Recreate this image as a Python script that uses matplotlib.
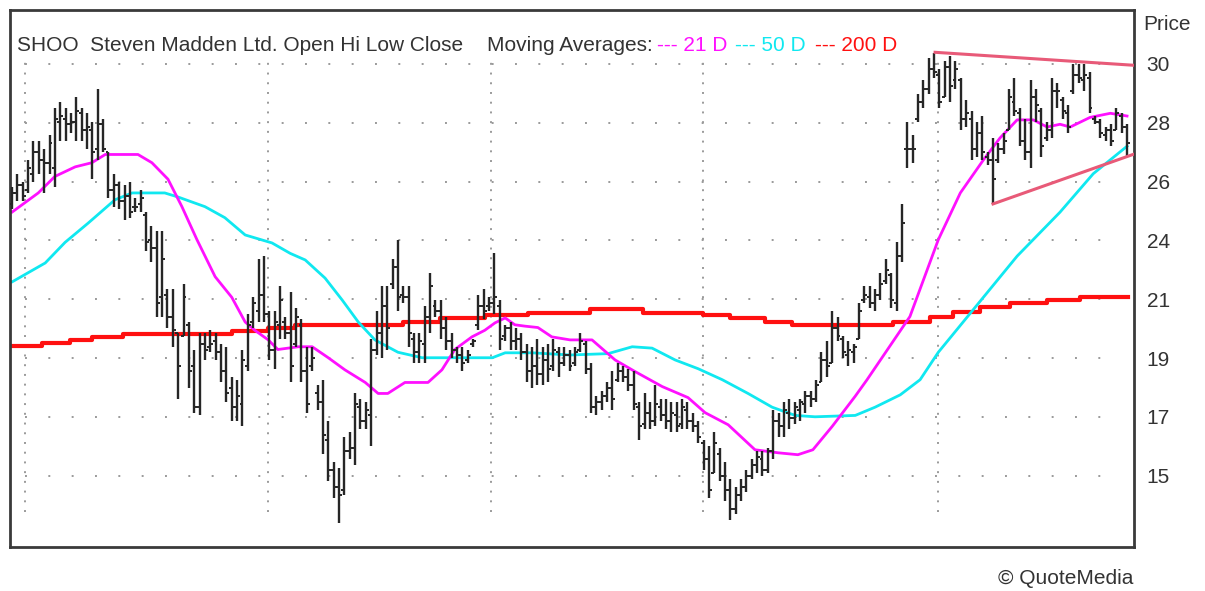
import numpy as np
import matplotlib
matplotlib.use('Agg')
import matplotlib.pyplot as plt

plt.rcParams['font.family'] = ['Liberation Sans', 'DejaVu Sans']

# daily OHLC (bar index = trading day)
highs = [25.5, 26.0, 25.7, 26.5, 27.2, 27.2, 26.9, 27.4, 28.4, 28.6,
         28.4, 28.2, 28.8, 28.4, 28.2, 27.9, 29.1, 28.0, 26.8, 26.0,
         25.7, 25.6, 25.7, 25.1, 25.4, 24.6, 24.1, 23.9, 23.9, 21.8,
         21.8, 20.2, 22.0, 20.6, 19.6, 20.2, 20.2, 20.3, 20.2, 19.8,
         19.7, 18.6, 18.5, 19.6, 20.9, 21.5, 22.9, 23.0, 21.0, 21.0,
         21.9, 20.8, 21.7, 21.1, 20.7, 19.7, 19.7, 18.3, 18.5, 17.0,
         15.5, 15.3, 16.4, 16.6, 18.0, 17.8, 17.7, 20.0, 21.0, 21.9,
         21.9, 22.9, 23.6, 21.9, 21.9, 20.2, 20.2, 21.2, 22.4, 21.4,
         21.4, 20.8, 20.2, 19.7, 19.7, 19.6, 20.0, 21.6, 21.8, 21.5,
         23.1, 21.4, 20.5, 20.6, 20.4, 20.2, 19.8, 19.7, 20.0, 19.7,
         19.8, 20.0, 19.7, 19.7, 19.6, 19.7, 20.2, 19.9, 19.1, 17.9,
         18.1, 18.4, 18.8, 19.1, 19.0, 18.9, 18.8, 17.7, 18.0, 17.7,
         18.3, 17.8, 17.8, 17.7, 17.7, 17.8, 17.7, 17.3, 17.0, 16.3,
         16.1, 16.6, 16.0, 15.5, 14.9, 14.6, 14.9, 15.2, 15.6, 15.9,
         15.9, 16.0, 17.4, 17.3, 17.7, 17.8, 17.7, 17.8, 18.1, 18.1,
         18.5, 19.5, 19.9, 21.0, 20.8, 20.1, 19.9, 19.8, 21.3, 21.9,
         21.9, 21.8, 22.4, 22.9, 22.4, 23.5, 24.9, 27.9, 27.4, 28.9,
         29.4, 30.2, 30.4, 29.8, 30.1, 30.3, 30.1, 29.5, 28.7, 28.3,
         27.9, 28.1, 26.8, 27.3, 27.1, 27.5, 29.1, 29.5, 28.4, 28.0,
         29.4, 29.1, 28.4, 27.9, 29.5, 29.3, 28.8, 28.5, 30.0, 30.0,
         30.0, 29.7, 28.1, 28.0, 27.7, 27.8, 28.4, 28.2, 27.8]
lows = [24.7, 25.0, 25.0, 25.3, 25.7, 26.0, 25.3, 26.0, 25.5, 27.2,
        27.2, 27.5, 27.2, 27.2, 26.9, 25.8, 26.5, 26.8, 25.1, 24.8,
        24.7, 24.3, 24.4, 24.6, 24.6, 23.2, 22.8, 20.8, 20.8, 20.4,
        19.7, 17.8, 20.1, 18.2, 17.3, 17.2, 19.2, 19.5, 19.2, 18.4,
        17.7, 17.0, 17.0, 16.8, 18.8, 20.4, 20.6, 20.6, 19.2, 18.9,
        20.0, 20.0, 18.4, 19.7, 18.4, 17.3, 18.8, 17.4, 15.8, 14.8,
        14.2, 13.3, 14.3, 15.6, 15.4, 16.7, 16.7, 16.1, 19.4, 19.3,
        19.6, 21.8, 21.0, 21.3, 19.7, 19.1, 19.1, 19.1, 20.2, 20.8,
        20.0, 19.6, 19.3, 19.1, 18.8, 19.1, 19.7, 20.3, 20.7, 21.0,
        20.9, 19.6, 19.9, 19.6, 19.6, 19.2, 18.4, 18.2, 18.3, 18.3,
        18.4, 18.8, 18.6, 19.0, 18.8, 19.0, 19.5, 18.7, 17.3, 17.2,
        17.4, 17.7, 17.4, 18.4, 18.4, 18.1, 17.4, 16.3, 16.7, 16.7,
        16.8, 17.0, 16.7, 16.6, 16.6, 16.7, 16.7, 16.6, 16.2, 15.2,
        14.2, 15.1, 14.8, 14.1, 13.4, 13.6, 14.1, 14.4, 14.9, 15.1,
        15.0, 15.1, 15.6, 16.4, 16.4, 16.7, 16.9, 17.0, 17.3, 17.5,
        17.7, 18.4, 18.6, 19.1, 19.9, 19.3, 19.0, 19.1, 20.0, 21.3,
        21.1, 21.0, 21.4, 22.0, 21.1, 21.0, 22.8, 26.2, 26.4, 27.9,
        28.4, 28.9, 29.5, 28.4, 28.8, 28.6, 29.1, 27.6, 27.7, 26.5,
        26.6, 26.5, 26.3, 24.9, 26.4, 26.7, 27.6, 28.1, 27.0, 26.5,
        26.2, 27.9, 26.6, 27.2, 27.3, 28.4, 28.0, 27.5, 28.9, 29.3,
        29.0, 28.2, 27.8, 27.3, 27.2, 27.0, 27.6, 27.5, 26.6]
opens = [24.9, 25.3, 25.6, 25.4, 26.0, 26.8, 26.5, 26.4, 26.2, 27.9,
         28.0, 27.8, 27.9, 28.2, 27.6, 27.6, 26.9, 27.8, 26.8, 25.4,
         25.6, 25.0, 25.2, 24.8, 24.9, 24.5, 23.6, 23.3, 21.5, 21.6,
         20.8, 20.2, 20.1, 20.5, 19.0, 17.5, 19.8, 19.7, 19.9, 19.5,
         18.8, 18.2, 17.5, 17.6, 19.0, 20.6, 21.0, 21.6, 20.9, 19.6,
         20.5, 20.6, 20.2, 19.8, 20.5, 18.8, 19.0, 18.0, 17.7, 16.3,
         15.2, 14.6, 14.5, 15.9, 16.0, 17.5, 17.0, 17.2, 19.6, 20.2,
         21.2, 22.0, 22.6, 21.6, 21.5, 20.0, 19.5, 19.8, 20.8, 21.2,
         21.0, 20.4, 19.9, 19.6, 19.4, 19.2, 19.8, 20.5, 21.2, 21.2,
         21.3, 21.2, 20.1, 20.4, 19.9, 20.0, 19.5, 18.8, 19.0, 18.7,
         19.2, 19.0, 19.5, 19.1, 19.4, 19.1, 19.6, 19.8, 18.9, 17.5,
         17.7, 17.9, 18.2, 18.5, 18.8, 18.6, 18.3, 17.5, 16.9, 17.3,
         17.0, 17.5, 17.2, 17.0, 17.2, 16.9, 17.4, 17.0, 16.8, 16.2,
         15.6, 15.1, 15.8, 15.0, 14.5, 13.8, 14.3, 14.6, 15.0, 15.4,
         15.6, 15.2, 15.9, 17.0, 16.8, 17.3, 17.1, 17.4, 17.6, 17.9,
         17.8, 18.4, 19.2, 19.1, 20.4, 20.0, 19.4, 19.5, 20.0, 21.4,
         21.5, 21.3, 21.6, 22.1, 22.3, 21.3, 23.0, 26.9, 26.9, 28.0,
         28.6, 29.1, 29.8, 29.6, 28.8, 29.9, 29.4, 29.4, 28.0, 28.0,
         26.9, 27.5, 26.6, 26.5, 26.5, 26.9, 27.6, 28.6, 28.2, 27.2,
         26.8, 28.8, 28.3, 27.3, 27.6, 29.0, 28.7, 28.2, 29.0, 29.6,
         29.4, 29.5, 28.0, 27.9, 27.4, 27.6, 27.6, 28.1, 27.7]
closes = [25.3, 25.6, 25.2, 26.2, 26.8, 26.5, 26.4, 27.1, 28.0, 28.1,
          27.8, 27.9, 28.3, 27.6, 27.7, 26.8, 27.8, 26.9, 25.4, 25.6,
          25.0, 25.2, 24.6, 24.8, 25.1, 23.5, 23.3, 21.3, 22.9, 20.8,
          20.3, 19.0, 21.5, 18.8, 17.5, 19.8, 19.6, 19.8, 19.5, 18.8,
          18.0, 17.5, 17.9, 19.2, 20.5, 21.3, 21.6, 20.9, 19.6, 20.6,
          21.4, 20.2, 19.0, 20.8, 18.8, 17.6, 19.3, 17.7, 16.5, 15.2,
          14.6, 14.3, 15.9, 16.0, 17.6, 17.0, 17.4, 19.6, 20.2, 21.2,
          20.4, 22.6, 21.5, 21.5, 20.2, 19.5, 19.9, 20.8, 21.9, 21.0,
          20.4, 19.9, 19.6, 19.4, 19.1, 19.4, 19.9, 21.2, 21.0, 21.3,
          21.5, 20.0, 20.4, 19.9, 20.0, 19.5, 18.8, 19.0, 18.7, 19.2,
          18.9, 19.6, 19.1, 19.4, 19.0, 19.5, 19.9, 18.9, 17.5, 17.7,
          17.9, 18.2, 17.8, 18.8, 18.6, 18.3, 17.6, 16.8, 17.3, 17.0,
          17.6, 17.2, 17.0, 17.3, 16.8, 17.5, 17.0, 16.8, 16.4, 15.6,
          14.5, 16.2, 15.0, 14.5, 13.8, 14.3, 14.6, 15.0, 15.4, 15.7,
          15.2, 15.9, 17.0, 16.8, 17.4, 17.1, 17.5, 17.7, 17.9, 17.8,
          18.3, 19.2, 19.0, 20.4, 20.1, 19.5, 19.6, 19.7, 21.0, 21.6,
          21.3, 21.6, 22.0, 22.5, 21.4, 23.0, 24.2, 26.9, 26.9, 28.6,
          29.1, 29.8, 29.7, 28.6, 29.9, 29.2, 29.8, 28.0, 28.2, 26.9,
          27.5, 26.8, 26.5, 25.8, 26.9, 27.2, 28.8, 28.3, 27.2, 26.8,
          28.8, 28.5, 27.0, 27.6, 29.0, 29.0, 28.3, 27.7, 29.6, 29.5,
          29.6, 28.4, 27.9, 27.5, 27.6, 27.2, 28.2, 27.7, 27.1]

# moving averages, read as (bar index, price) points
ma21_x = [0, 4.9, 8.0, 11.8, 14.9, 17.4, 23.5, 26.1, 29.1, 31.7, 34.5, 37.9, 41.0,
          43.5, 45.3, 47.8, 49.6, 53.4, 56.0, 59.0, 62.1, 65.9, 68.3, 70.1, 73.3,
          77.6, 80.2, 82.6, 85.8, 88.2, 90.1, 92.0, 93.8, 95.7, 98.1, 100.7, 104.1,
          108.2, 112.5, 116.2, 121.3, 126.1, 129.3, 133.6, 138.6, 142.9, 146.6,
          149.4, 153.0, 157.3, 159.5, 167.5, 172.8, 176.9, 181.2, 184.3, 187.5,
          190.5, 193.1, 195.5, 197.4, 201.1, 204.9, 208.0]
ma21 = [24.6, 25.3, 25.9, 26.25, 26.4, 26.7, 26.7, 26.4, 25.8, 24.8, 23.6, 22.25, 21.5,
        20.6, 20.3, 19.95, 19.6, 19.7, 19.7, 19.3, 18.86, 18.4, 18.0, 18.0, 18.4,
        18.4, 18.86, 19.6, 20.06, 20.3, 20.57, 20.75, 20.5, 20.45, 20.4, 20.06, 19.95,
        19.95, 19.22, 18.8, 18.25, 17.85, 17.3, 16.86, 15.95, 15.84, 15.77,
        15.95, 16.8, 17.9, 18.5, 20.8, 23.6, 25.3, 26.5, 27.3, 27.96,
        27.96, 27.7, 27.8, 27.7, 28.05, 28.2, 28.1]
ma50_x = [0, 6.2, 9.9, 14.2, 19.2, 22.4, 28.5, 31.0, 36.0, 39.7, 43.5, 48.5, 51.9,
          54.7, 58.4, 61.6, 64.6, 67.7, 72.0, 76.5, 89.6, 92.0, 97.0, 104.1, 111.2,
          115.7, 119.4, 123.7, 128.0, 132.5, 137.3, 141.8, 146.1, 149.8, 157.3,
          161.0, 165.7, 169.4, 172.8, 181.2, 187.5, 195.5, 201.7, 208.0]
ma50 = [22.06, 22.75, 23.5, 24.2, 25.05, 25.3, 25.3, 25.15, 24.8, 24.4, 23.77, 23.48, 23.1,
        22.86, 22.2, 21.4, 20.6, 19.95, 19.5, 19.3, 19.3, 19.48, 19.48, 19.4, 19.45,
        19.7, 19.65, 19.22, 18.9, 18.5, 18.0, 17.5, 17.2, 17.15, 17.2,
        17.5, 17.95, 18.5, 19.5, 21.5, 23.0, 24.6, 26.0, 27.0]
ma200_x = [0, 5.6, 10.8, 14.9, 20.7, 41.0, 47.8, 52.8, 72.9, 79.9, 88.2, 96.3, 107.8,
           117.7, 128.9, 134.0, 140.5, 145.5, 164.4, 171.3, 175.6, 180.6, 186.2,
           193.1, 199.3, 208.2]
ma200 = [19.73, 19.84, 19.95, 20.06, 20.17, 20.28, 20.39, 20.5, 20.6, 20.75, 20.86, 20.93, 21.08,
         20.93, 20.86, 20.75, 20.6, 20.5, 20.6, 20.79, 20.97, 21.15, 21.3,
         21.41, 21.52, 21.52]

# hand-drawn channel lines
top_line_x = [172.2, 209.1]
top_line = [30.42, 29.95]
bot_line_x = [183, 209.1]
bot_line = [24.9, 26.7]

month_x = [2.4, 47.8, 89.4, 128.9, 172.8]
price_ticks = np.linspace(15, 30, 8)
price_labels = ['%d' % round(v) for v in price_ticks]

W, H = 1205, 591
fig = plt.figure(figsize=(W / 100, H / 100), dpi=100)
ax = fig.add_axes([10 / W, 1 - 547 / H, 1124 / W, 537 / H])

x = np.arange(len(highs))
ax.set_xlim(-0.37, 209.3)
ax.set_ylim(12.41, 31.96)

# dotted grid
ax.hlines(price_ticks, 2.4, 205.8, colors='#9a9a9a', linestyles=(0, (1, 11)), linewidth=1.4, zorder=1)
ax.vlines(month_x, 13.7, 30.14, colors='#9a9a9a', linestyles=(0, (1, 4)), linewidth=1.4, zorder=1)

# moving averages
ax.plot(ma200_x, ma200, color='#ff1010', lw=3, drawstyle='steps-post', zorder=2)
ax.plot(ma50_x, ma50, color='#10e8f0', lw=2, zorder=2)
ax.plot(ma21_x, ma21, color='#ff10ff', lw=2, zorder=2)

# OHLC bars
bar_c = '#262626'
ax.vlines(x, lows, highs, colors=bar_c, linewidth=1.7, zorder=3)
ax.hlines(opens, x - 0.55, x, colors=bar_c, linewidth=1.4, zorder=3)
ax.hlines(closes, x, x + 0.55, colors=bar_c, linewidth=1.4, zorder=3)

ax.plot(top_line_x, top_line, color='#e85a78', lw=2.2, zorder=4)
ax.plot(bot_line_x, bot_line, color='#e85a78', lw=2.2, zorder=4)

ax.set_xticks([])
ax.yaxis.tick_right()
ax.set_yticks(price_ticks)
ax.set_yticklabels(price_labels)
ax.tick_params(axis='y', length=0, pad=9, labelsize=15, labelcolor='#333333')
for s in ax.spines.values():
    s.set_color('#3a3a3a')
    s.set_linewidth(2)

txt = dict(fontsize=15, va='baseline', ha='left')
fig.text(17 / W, 1 - 51 / H, 'SHOO  Steven Madden Ltd. Open Hi Low Close', color='#333333', **txt)
fig.text(487 / W, 1 - 51 / H, 'Moving Averages:', color='#333333', **txt)
fig.text(657 / W, 1 - 51 / H, '--- 21 D', color='#ff10ff', **txt)
fig.text(735 / W, 1 - 51 / H, '--- 50 D', color='#10e8f0', **txt)
fig.text(815 / W, 1 - 51 / H, '--- 200 D', color='#ff1010', **txt)
fig.text(1143 / W, 1 - 30 / H, 'Price', color='#333333', **txt)
fig.text(1133 / W, 1 - 584 / H, '\u00a9 QuoteMedia', color='#333333', fontsize=15, va='baseline', ha='right')

fig.savefig('out.png', dpi=100)
